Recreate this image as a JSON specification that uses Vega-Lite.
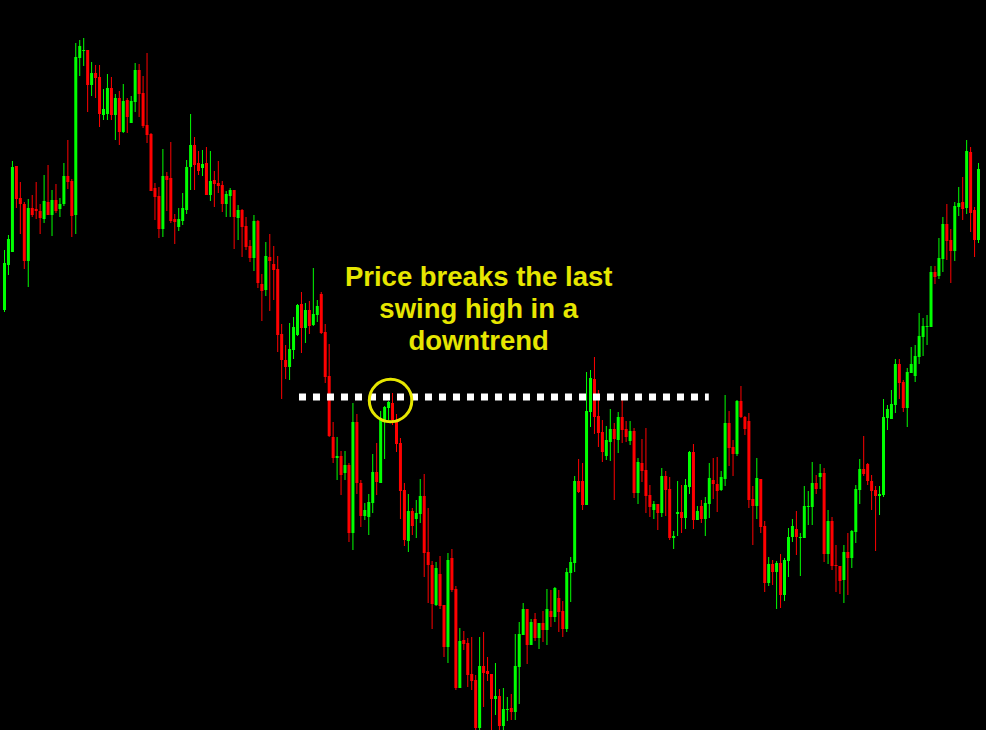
{
  "$schema": "https://vega.github.io/schema/vega-lite/v6.json",
  "width": 986,
  "height": 730,
  "autosize": "none",
  "padding": 0,
  "background": "#000000",
  "config": {"view": {"stroke": null}},
  "datasets": {
    "candles": [
      {"t":-1,"o":420,"h":480,"l":418,"c":467},
      {"t":0,"o":465,"h":495,"l":455,"c":491},
      {"t":1,"o":478,"h":569,"l":478,"c":563},
      {"t":2,"o":564,"h":564,"l":522,"c":531},
      {"t":3,"o":532,"h":548,"l":496,"c":526},
      {"t":4,"o":526,"h":528,"l":461,"c":469},
      {"t":5,"o":469,"h":531,"l":443,"c":522},
      {"t":6,"o":522,"h":535,"l":513,"c":515},
      {"t":7,"o":521,"h":548,"l":511,"c":519},
      {"t":8,"o":519,"h":526,"l":496,"c":512},
      {"t":9,"o":511,"h":555,"l":507,"c":529},
      {"t":10,"o":528,"h":565,"l":515,"c":515},
      {"t":11,"o":515,"h":540,"l":494,"c":530},
      {"t":12,"o":530,"h":546,"l":517,"c":519},
      {"t":13,"o":521,"h":532,"l":513,"c":526},
      {"t":14,"o":526,"h":567,"l":524,"c":554},
      {"t":15,"o":554,"h":590,"l":541,"c":548},
      {"t":16,"o":549,"h":551,"l":493,"c":514},
      {"t":17,"o":515,"h":687,"l":496,"c":673},
      {"t":18,"o":672,"h":690,"l":654,"c":684},
      {"t":19,"o":679,"h":692,"l":664,"c":680},
      {"t":20,"o":680,"h":680,"l":618,"c":645},
      {"t":21,"o":645,"h":668,"l":634,"c":657},
      {"t":22,"o":657,"h":665,"l":632,"c":652},
      {"t":23,"o":653,"h":665,"l":603,"c":616},
      {"t":24,"o":615,"h":641,"l":610,"c":621},
      {"t":25,"o":616,"h":656,"l":610,"c":642},
      {"t":26,"o":642,"h":653,"l":610,"c":615},
      {"t":27,"o":615,"h":636,"l":590,"c":632},
      {"t":28,"o":632,"h":639,"l":585,"c":598},
      {"t":29,"o":598,"h":646,"l":597,"c":629},
      {"t":30,"o":630,"h":632,"l":597,"c":613},
      {"t":31,"o":607,"h":634,"l":607,"c":629},
      {"t":32,"o":628,"h":667,"l":618,"c":660},
      {"t":33,"o":660,"h":666,"l":613,"c":636},
      {"t":34,"o":637,"h":654,"l":602,"c":604},
      {"t":35,"o":605,"h":677,"l":587,"c":595},
      {"t":36,"o":596,"h":597,"l":539,"c":539},
      {"t":37,"o":542,"h":547,"l":510,"c":533},
      {"t":38,"o":534,"h":543,"l":492,"c":501},
      {"t":39,"o":501,"h":581,"l":493,"c":554},
      {"t":40,"o":554,"h":558,"l":519,"c":550},
      {"t":41,"o":552,"h":588,"l":507,"c":509},
      {"t":42,"o":511,"h":516,"l":486,"c":508},
      {"t":43,"o":503,"h":522,"l":499,"c":511},
      {"t":44,"o":509,"h":537,"l":505,"c":522},
      {"t":45,"o":520,"h":570,"l":516,"c":563},
      {"t":46,"o":563,"h":616,"l":540,"c":585},
      {"t":47,"o":585,"h":593,"l":540,"c":565},
      {"t":48,"o":567,"h":579,"l":555,"c":559},
      {"t":49,"o":562,"h":580,"l":554,"c":566},
      {"t":50,"o":567,"h":583,"l":535,"c":535},
      {"t":51,"o":535,"h":579,"l":529,"c":549},
      {"t":52,"o":550,"h":559,"l":523,"c":546},
      {"t":53,"o":547,"h":569,"l":537,"c":544},
      {"t":54,"o":545,"h":549,"l":518,"c":526},
      {"t":55,"o":526,"h":539,"l":513,"c":536},
      {"t":56,"o":534,"h":542,"l":513,"c":540},
      {"t":57,"o":540,"h":540,"l":481,"c":513},
      {"t":58,"o":512,"h":525,"l":490,"c":520},
      {"t":59,"o":520,"h":521,"l":473,"c":503},
      {"t":60,"o":504,"h":513,"l":480,"c":483},
      {"t":61,"o":484,"h":490,"l":468,"c":472},
      {"t":62,"o":472,"h":515,"l":459,"c":509},
      {"t":63,"o":509,"h":510,"l":442,"c":447},
      {"t":64,"o":446,"h":456,"l":409,"c":439},
      {"t":65,"o":440,"h":488,"l":434,"c":474},
      {"t":66,"o":473,"h":496,"l":419,"c":469},
      {"t":67,"o":466,"h":484,"l":430,"c":460},
      {"t":68,"o":461,"h":474,"l":378,"c":395},
      {"t":69,"o":396,"h":406,"l":331,"c":370},
      {"t":70,"o":370,"h":385,"l":351,"c":363},
      {"t":71,"o":363,"h":407,"l":350,"c":381},
      {"t":72,"o":380,"h":413,"l":371,"c":403},
      {"t":73,"o":395,"h":426,"l":394,"c":425},
      {"t":74,"o":426,"h":438,"l":377,"c":402},
      {"t":75,"o":402,"h":427,"l":387,"c":420},
      {"t":76,"o":420,"h":429,"l":396,"c":404},
      {"t":77,"o":405,"h":462,"l":404,"c":416},
      {"t":78,"o":415,"h":430,"l":408,"c":424},
      {"t":79,"o":436,"h":438,"l":396,"c":397},
      {"t":80,"o":398,"h":406,"l":347,"c":353},
      {"t":81,"o":354,"h":386,"l":293,"c":294},
      {"t":82,"o":293,"h":308,"l":267,"c":272},
      {"t":83,"o":272,"h":293,"l":250,"c":274},
      {"t":84,"o":274,"h":279,"l":235,"c":255},
      {"t":85,"o":257,"h":279,"l":250,"c":265},
      {"t":86,"o":265,"h":267,"l":188,"c":197},
      {"t":87,"o":197,"h":327,"l":180,"c":308},
      {"t":88,"o":308,"h":316,"l":236,"c":247},
      {"t":89,"o":247,"h":250,"l":203,"c":214},
      {"t":90,"o":214,"h":227,"l":210,"c":220},
      {"t":91,"o":213,"h":236,"l":195,"c":228},
      {"t":92,"o":227,"h":276,"l":217,"c":258},
      {"t":93,"o":258,"h":287,"l":235,"c":248},
      {"t":94,"o":247,"h":319,"l":247,"c":310},
      {"t":95,"o":309,"h":324,"l":271,"c":323},
      {"t":96,"o":322,"h":329,"l":310,"c":328},
      {"t":97,"o":327,"h":337,"l":305,"c":310},
      {"t":98,"o":310,"h":316,"l":278,"c":286},
      {"t":99,"o":287,"h":292,"l":211,"c":239},
      {"t":100,"o":240,"h":247,"l":184,"c":190},
      {"t":101,"o":189,"h":236,"l":178,"c":219},
      {"t":102,"o":219,"h":222,"l":195,"c":204},
      {"t":103,"o":211,"h":230,"l":192,"c":217},
      {"t":104,"o":216,"h":251,"l":207,"c":234},
      {"t":105,"o":234,"h":256,"l":153,"c":177},
      {"t":106,"o":178,"h":222,"l":127,"c":165},
      {"t":107,"o":165,"h":169,"l":101,"c":126},
      {"t":108,"o":125,"h":168,"l":124,"c":162},
      {"t":109,"o":156,"h":174,"l":121,"c":124},
      {"t":110,"o":125,"h":125,"l":73,"c":83},
      {"t":111,"o":83,"h":177,"l":67,"c":170},
      {"t":112,"o":172,"h":181,"l":138,"c":140},
      {"t":113,"o":141,"h":144,"l":40,"c":42},
      {"t":114,"o":42,"h":102,"l":42,"c":89},
      {"t":115,"o":90,"h":99,"l":80,"c":86},
      {"t":116,"o":87,"h":92,"l":43,"c":55},
      {"t":117,"o":56,"h":93,"l":40,"c":49},
      {"t":118,"o":50,"h":55,"l":0,"c":2},
      {"t":119,"o":2,"h":93,"l":0,"c":64},
      {"t":120,"o":64,"h":98,"l":23,"c":57},
      {"t":121,"o":59,"h":73,"l":49,"c":56},
      {"t":122,"o":56,"h":56,"l":0,"c":31},
      {"t":123,"o":31,"h":67,"l":15,"c":34},
      {"t":124,"o":34,"h":41,"l":0,"c":4},
      {"t":125,"o":4,"h":42,"l":0,"c":21},
      {"t":126,"o":20,"h":33,"l":9,"c":21},
      {"t":127,"o":22,"h":36,"l":10,"c":18},
      {"t":128,"o":18,"h":96,"l":10,"c":64},
      {"t":129,"o":63,"h":108,"l":26,"c":96},
      {"t":130,"o":95,"h":127,"l":95,"c":121},
      {"t":131,"o":121,"h":121,"l":66,"c":85},
      {"t":132,"o":85,"h":111,"l":85,"c":108},
      {"t":133,"o":111,"h":117,"l":89,"c":92},
      {"t":134,"o":92,"h":107,"l":81,"c":107},
      {"t":135,"o":107,"h":119,"l":88,"c":100},
      {"t":136,"o":100,"h":141,"l":85,"c":121},
      {"t":137,"o":119,"h":140,"l":103,"c":113},
      {"t":138,"o":113,"h":143,"l":108,"c":142},
      {"t":139,"o":132,"h":140,"l":98,"c":118},
      {"t":140,"o":119,"h":129,"l":93,"c":101},
      {"t":141,"o":101,"h":162,"l":98,"c":158},
      {"t":142,"o":157,"h":173,"l":128,"c":168},
      {"t":143,"o":167,"h":254,"l":158,"c":249},
      {"t":144,"o":249,"h":271,"l":237,"c":238},
      {"t":145,"o":249,"h":267,"l":220,"c":225},
      {"t":146,"o":225,"h":358,"l":225,"c":319},
      {"t":147,"o":318,"h":360,"l":303,"c":352},
      {"t":148,"o":351,"h":373,"l":296,"c":313},
      {"t":149,"o":314,"h":340,"l":283,"c":297},
      {"t":150,"o":298,"h":310,"l":268,"c":278},
      {"t":151,"o":274,"h":304,"l":270,"c":290},
      {"t":152,"o":288,"h":321,"l":269,"c":301},
      {"t":153,"o":301,"h":307,"l":230,"c":291},
      {"t":154,"o":290,"h":318,"l":277,"c":313},
      {"t":155,"o":313,"h":330,"l":287,"c":300},
      {"t":156,"o":301,"h":309,"l":288,"c":293},
      {"t":157,"o":289,"h":309,"l":285,"c":299},
      {"t":158,"o":299,"h":302,"l":232,"c":237},
      {"t":159,"o":237,"h":272,"l":226,"c":268},
      {"t":160,"o":267,"h":291,"l":248,"c":259},
      {"t":161,"o":260,"h":302,"l":217,"c":234},
      {"t":162,"o":235,"h":245,"l":213,"c":223},
      {"t":163,"o":220,"h":229,"l":211,"c":226},
      {"t":164,"o":226,"h":226,"l":200,"c":217},
      {"t":165,"o":217,"h":262,"l":213,"c":254},
      {"t":166,"o":254,"h":259,"l":214,"c":240},
      {"t":167,"o":241,"h":253,"l":190,"c":192},
      {"t":168,"o":192,"h":199,"l":181,"c":194},
      {"t":169,"o":216,"h":249,"l":194,"c":218},
      {"t":170,"o":218,"h":245,"l":197,"c":212},
      {"t":171,"o":212,"h":251,"l":201,"c":245},
      {"t":172,"o":243,"h":279,"l":236,"c":278},
      {"t":173,"o":278,"h":286,"l":201,"c":210},
      {"t":174,"o":210,"h":224,"l":210,"c":219},
      {"t":175,"o":224,"h":230,"l":207,"c":211},
      {"t":176,"o":211,"h":233,"l":194,"c":227},
      {"t":177,"o":226,"h":267,"l":212,"c":252},
      {"t":178,"o":250,"h":272,"l":231,"c":246},
      {"t":179,"o":246,"h":273,"l":218,"c":239},
      {"t":180,"o":240,"h":259,"l":239,"c":253},
      {"t":181,"o":251,"h":335,"l":244,"c":307},
      {"t":182,"o":307,"h":319,"l":264,"c":282},
      {"t":183,"o":283,"h":290,"l":254,"c":276},
      {"t":184,"o":276,"h":330,"l":274,"c":329},
      {"t":185,"o":329,"h":344,"l":312,"c":313},
      {"t":186,"o":313,"h":314,"l":295,"c":301},
      {"t":187,"o":309,"h":317,"l":222,"c":230},
      {"t":188,"o":231,"h":244,"l":185,"c":224},
      {"t":189,"o":224,"h":272,"l":211,"c":252},
      {"t":190,"o":251,"h":251,"l":197,"c":203},
      {"t":191,"o":204,"h":209,"l":138,"c":147},
      {"t":192,"o":147,"h":173,"l":144,"c":166},
      {"t":193,"o":166,"h":170,"l":145,"c":158},
      {"t":194,"o":158,"h":169,"l":121,"c":167},
      {"t":195,"o":167,"h":176,"l":122,"c":135},
      {"t":196,"o":135,"h":172,"l":129,"c":170},
      {"t":197,"o":169,"h":202,"l":153,"c":193},
      {"t":198,"o":193,"h":211,"l":188,"c":204},
      {"t":199,"o":201,"h":219,"l":175,"c":193},
      {"t":200,"o":192,"h":197,"l":154,"c":193},
      {"t":201,"o":192,"h":244,"l":192,"c":224},
      {"t":202,"o":223,"h":239,"l":205,"c":224},
      {"t":203,"o":223,"h":268,"l":205,"c":247},
      {"t":204,"o":247,"h":255,"l":236,"c":241},
      {"t":205,"o":253,"h":266,"l":241,"c":257},
      {"t":206,"o":257,"h":262,"l":168,"c":176},
      {"t":207,"o":176,"h":220,"l":166,"c":209},
      {"t":208,"o":209,"h":213,"l":160,"c":164},
      {"t":209,"o":165,"h":185,"l":138,"c":164},
      {"t":210,"o":164,"h":164,"l":136,"c":149},
      {"t":211,"o":150,"h":185,"l":127,"c":178},
      {"t":212,"o":178,"h":197,"l":135,"c":172},
      {"t":213,"o":172,"h":200,"l":162,"c":199},
      {"t":214,"o":198,"h":245,"l":187,"c":241},
      {"t":215,"o":240,"h":271,"l":226,"c":261},
      {"t":216,"o":261,"h":294,"l":254,"c":256},
      {"t":217,"o":266,"h":267,"l":245,"c":249},
      {"t":218,"o":249,"h":255,"l":220,"c":239},
      {"t":219,"o":240,"h":244,"l":179,"c":234},
      {"t":220,"o":234,"h":244,"l":215,"c":236},
      {"t":221,"o":235,"h":331,"l":233,"c":313},
      {"t":222,"o":312,"h":325,"l":300,"c":321},
      {"t":223,"o":311,"h":340,"l":311,"c":326},
      {"t":224,"o":325,"h":371,"l":317,"c":366},
      {"t":225,"o":366,"h":371,"l":331,"c":347},
      {"t":226,"o":348,"h":350,"l":318,"c":322},
      {"t":227,"o":322,"h":362,"l":303,"c":358},
      {"t":228,"o":357,"h":383,"l":357,"c":366},
      {"t":229,"o":354,"h":385,"l":348,"c":374},
      {"t":230,"o":373,"h":417,"l":366,"c":394},
      {"t":231,"o":393,"h":412,"l":374,"c":404},
      {"t":232,"o":403,"h":415,"l":385,"c":404},
      {"t":233,"o":403,"h":464,"l":403,"c":458},
      {"t":234,"o":458,"h":464,"l":446,"c":453},
      {"t":235,"o":454,"h":492,"l":451,"c":472},
      {"t":236,"o":471,"h":513,"l":458,"c":506},
      {"t":237,"o":506,"h":526,"l":470,"c":489},
      {"t":238,"o":490,"h":501,"l":447,"c":479},
      {"t":239,"o":479,"h":528,"l":469,"c":524},
      {"t":240,"o":523,"h":543,"l":514,"c":527},
      {"t":241,"o":528,"h":553,"l":510,"c":521},
      {"t":242,"o":522,"h":590,"l":516,"c":579},
      {"t":243,"o":578,"h":583,"l":498,"c":517},
      {"t":244,"o":520,"h":523,"l":473,"c":490},
      {"t":245,"o":490,"h":567,"l":487,"c":561}
    ],
    "level": [{"from": 73.375, "to": 176.875, "price": 333}],
    "marker": [{"t": 96.5, "price": 329.5}],
    "notes": [
      {"t": 118.75, "price": 444, "line": "Price breaks the last"},
      {"t": 118.75, "price": 412, "line": "swing high in a"},
      {"t": 118.75, "price": 380, "line": "downtrend"}
    ]
  },
  "layer": [
    {
      "data": {"name": "candles"},
      "mark": {"type": "rule", "strokeWidth": 1, "clip": true},
      "encoding": {
        "x": {"field": "t", "type": "quantitative", "scale": {"domain": [-0.875, 245.625], "nice": false, "zero": false}, "axis": null},
        "y": {"field": "l", "type": "quantitative", "scale": {"domain": [0, 730], "nice": false, "zero": false}, "axis": null},
        "y2": {"field": "h"},
        "color": {"condition": {"test": "datum.c >= datum.o", "value": "#00ff00"}, "value": "#ff0000"}
      }
    },
    {
      "data": {"name": "candles"},
      "mark": {"type": "bar", "size": 3, "clip": true},
      "encoding": {
        "x": {"field": "t", "type": "quantitative", "scale": {"domain": [-0.875, 245.625], "nice": false, "zero": false}, "axis": null},
        "y": {"field": "o", "type": "quantitative", "scale": {"domain": [0, 730], "nice": false, "zero": false}, "axis": null},
        "y2": {"field": "c"},
        "color": {"condition": {"test": "datum.c >= datum.o", "value": "#00ff00"}, "value": "#ff0000"}
      }
    },
    {
      "data": {"name": "level"},
      "mark": {"type": "rule", "color": "#ffffff", "strokeWidth": 7, "strokeDash": [7, 7]},
      "encoding": {
        "x": {"field": "from", "type": "quantitative", "scale": {"domain": [-0.875, 245.625], "nice": false, "zero": false}, "axis": null},
        "x2": {"field": "to"},
        "y": {"field": "price", "type": "quantitative", "scale": {"domain": [0, 730], "nice": false, "zero": false}, "axis": null}
      }
    },
    {
      "data": {"name": "marker"},
      "mark": {"type": "point", "shape": "circle", "filled": false, "size": 1810, "stroke": "#e6e600", "strokeWidth": 3, "opacity": 1},
      "encoding": {
        "x": {"field": "t", "type": "quantitative", "scale": {"domain": [-0.875, 245.625], "nice": false, "zero": false}, "axis": null},
        "y": {"field": "price", "type": "quantitative", "scale": {"domain": [0, 730], "nice": false, "zero": false}, "axis": null}
      }
    },
    {
      "data": {"name": "notes"},
      "mark": {"type": "text", "font": "Liberation Sans", "fontWeight": "bold", "fontSize": 27.5, "color": "#e6e600", "align": "center", "baseline": "alphabetic"},
      "encoding": {
        "x": {"field": "t", "type": "quantitative", "scale": {"domain": [-0.875, 245.625], "nice": false, "zero": false}, "axis": null},
        "y": {"field": "price", "type": "quantitative", "scale": {"domain": [0, 730], "nice": false, "zero": false}, "axis": null},
        "text": {"field": "line"}
      }
    }
  ]
}
